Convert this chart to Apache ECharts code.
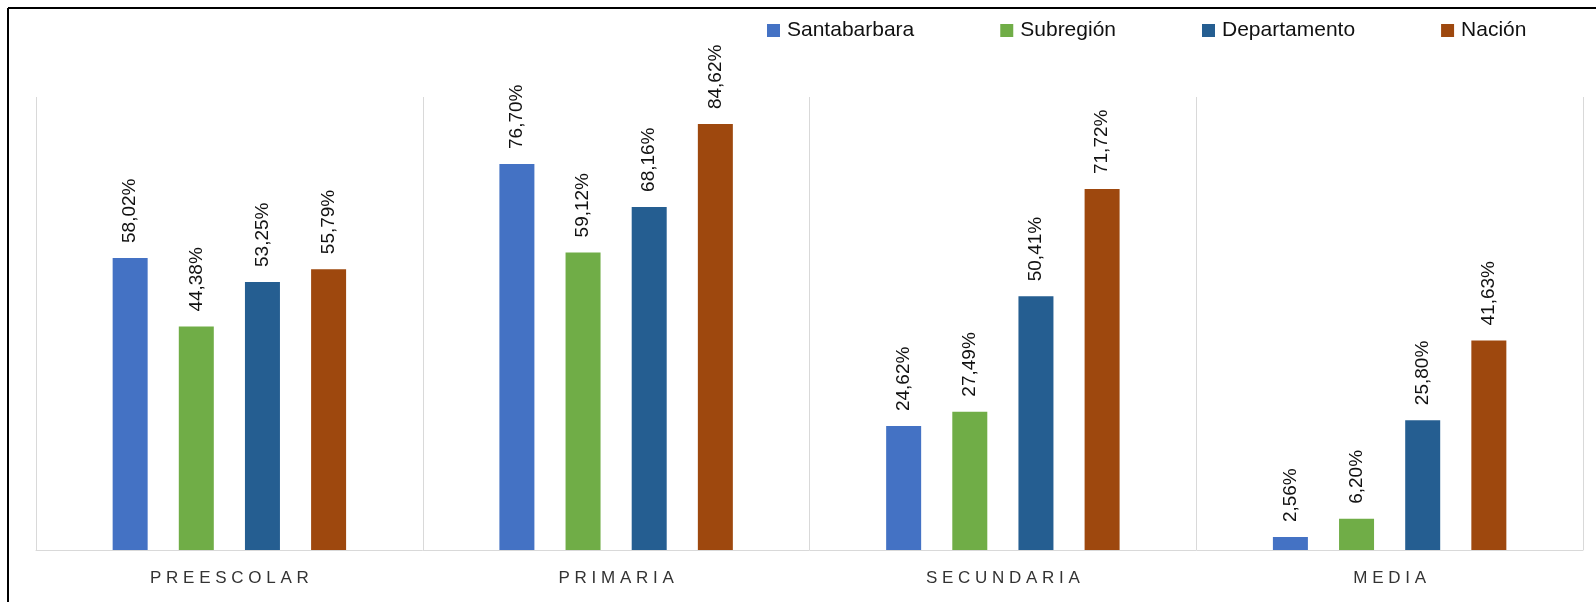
<!DOCTYPE html>
<html>
<head>
<meta charset="utf-8">
<script src="https://cdn.jsdelivr.net/npm/echarts@6/dist/echarts.min.js"></script>
<style>
    html, body { margin: 0; padding: 0; background: #fff; }
    #chart { width: 1596px; height: 602px; }
</style>
</head>
<body>
<div id="chart"></div>
<script>
// niveles educativos
const categories = ['PREESCOLAR', 'PRIMARIA', 'SECUNDARIA', 'MEDIA'];
const seriesNames = ['Santabarbara', 'Subregión', 'Departamento', 'Nación'];
const santabarbara = [58.02, 76.70, 24.62, 2.56];
const subregion = [44.38, 59.12, 27.49, 6.20];
const departamento = [53.25, 68.16, 50.41, 25.80];
const nacion = [55.79, 84.62, 71.72, 41.63];

const colors = ['#4472C4', '#70AD47', '#255E91', '#9E480E'];
const values = [santabarbara, subregion, departamento, nacion];

const myChart = echarts.init(document.getElementById('chart'));

const series = seriesNames.map((name, i) => ({
    name: name,
    type: 'bar',
    data: values[i],
    barWidth: 35,
    barGap: '89%',
    itemStyle: { color: colors[i] },
    label: {
        show: true,
        position: 'top',
        rotate: 90,
        align: 'left',
        verticalAlign: 'middle',
        distance: 15,
        color: '#111',
        fontFamily: 'Liberation Sans',
        fontSize: 19,
        formatter: p => p.value.toFixed(2).replace('.', ',') + '%'
    }
}));

const option = {
    animation: false,
    legend: {
        data: seriesNames,
        left: 767,
        top: 20,
        padding: 0,
        icon: 'rect',
        itemWidth: 13,
        itemHeight: 13,
        itemGap: 86,
        textStyle: {
            color: '#111',
            fontFamily: 'Liberation Sans',
            fontSize: 21,
            padding: [0, 0, 0, 2]
        }
    },
    grid: {
        left: 36,
        right: 13,
        top: 97,
        bottom: 52
    },
    xAxis: {
        type: 'category',
        data: categories,
        axisTick: { show: false },
        axisLine: { show: true, lineStyle: { color: '#d9d9d9', width: 1 } },
        splitLine: { show: true, lineStyle: { color: '#d9d9d9', width: 1 } },
        axisLabel: {
            color: '#333',
            fontFamily: 'Liberation Sans',
            fontSize: 17,
            margin: 20,
            formatter: v => v.split('').join(' ')
        }
    },
    yAxis: {
        type: 'value',
        min: 0,
        max: 90,
        show: false,
        splitLine: { show: false }
    },
    graphic: [
        { type: 'line', shape: { x1: 8, y1: 8, x2: 1596, y2: 8 }, style: { stroke: '#000', lineWidth: 2 } },
        { type: 'line', shape: { x1: 8, y1: 8, x2: 8, y2: 602 }, style: { stroke: '#000', lineWidth: 2 } }
    ],
    series
};

myChart.setOption(option, true);
window.addEventListener('resize', () => {
    myChart.resize();
});
</script>
</body>
</html>
